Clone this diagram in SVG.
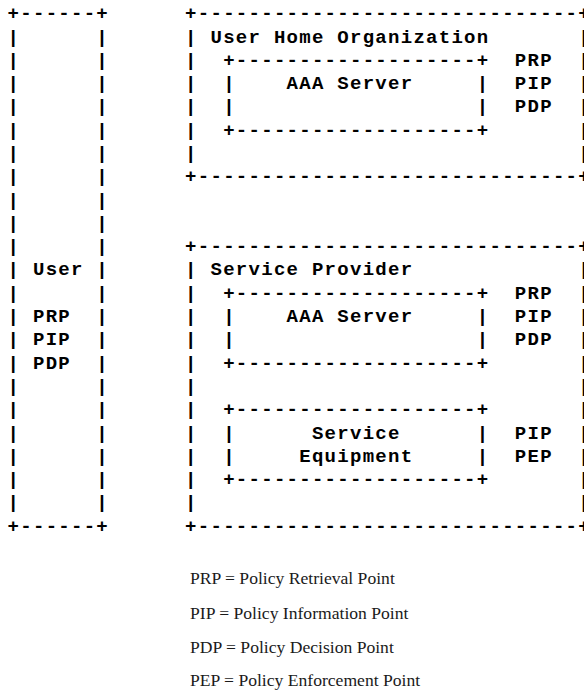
<svg xmlns="http://www.w3.org/2000/svg" width="584" height="693" viewBox="0 0 584 693">
  <style>
    .art { font-family: "Liberation Mono", "Courier New", monospace; font-size: 19px; font-weight: bold; letter-spacing: 1.28px; fill: #000; }
    .legend { font-family: "Liberation Serif", "Times New Roman", serif; font-size: 17.6px; fill: #1a1a1a; }
  </style>
  <rect width="584" height="693" fill="#fff"/>

  <!-- Character grid: column c at x = 7.6 + 12.68c, row r baseline at y = 19.3 + 23.29r -->
  <g id="user" class="art">
    <text x="7.6" y="19.3">+------+</text>
    <text x="7.6 7.6 7.6 7.6 7.6 7.6 7.6 7.6 7.6 7.6 7.6 7.6 7.6 7.6 7.6 7.6 7.6 7.6 7.6 7.6 7.6"
          y="42.59 65.88 89.17 112.46 135.75 159.04 182.33 205.62 228.91 252.2 275.49 298.78 322.07 345.36 368.65 391.94 415.23 438.52 461.81 485.1 508.39">|||||||||||||||||||||</text>
    <text x="96.36 96.36 96.36 96.36 96.36 96.36 96.36 96.36 96.36 96.36 96.36 96.36 96.36 96.36 96.36 96.36 96.36 96.36 96.36 96.36 96.36"
          y="42.59 65.88 89.17 112.46 135.75 159.04 182.33 205.62 228.91 252.2 275.49 298.78 322.07 345.36 368.65 391.94 415.23 438.52 461.81 485.1 508.39">|||||||||||||||||||||</text>
    <text x="7.6" y="531.68">+------+</text>
    <text x="32.96" y="275.49">User</text>
    <text x="32.96" y="322.07">PRP</text>
    <text x="32.96" y="345.36">PIP</text>
    <text x="32.96" y="368.65">PDP</text>
  </g>

  <g id="home-organization" class="art">
    <text x="185.12" y="19.3">+------------------------------+</text>
    <text x="185.12 185.12 185.12 185.12 185.12 185.12" y="42.59 65.88 89.17 112.46 135.75 159.04">||||||</text>
    <text x="578.2 578.2 578.2 578.2 578.2 578.2" y="42.59 65.88 89.17 112.46 135.75 159.04">||||||</text>
    <text x="185.12" y="182.33">+------------------------------+</text>
    <text x="210.48" y="42.59">User Home Organization</text>
    <text x="514.8" y="65.88">PRP</text>
    <text x="514.8" y="89.17">PIP</text>
    <text x="514.8" y="112.46">PDP</text>
    <g id="home-aaa-server">
      <text x="223.16" y="65.88">+-------------------+</text>
      <text x="223.16 476.76 223.16 476.76" y="89.17 89.17 112.46 112.46">||||</text>
      <text x="223.16" y="135.75">+-------------------+</text>
      <text x="286.56" y="89.17">AAA Server</text>
    </g>
  </g>

  <g id="service-provider" class="art">
    <text x="185.12" y="252.2">+------------------------------+</text>
    <text x="185.12 185.12 185.12 185.12 185.12 185.12 185.12 185.12 185.12 185.12 185.12"
          y="275.49 298.78 322.07 345.36 368.65 391.94 415.23 438.52 461.81 485.1 508.39">|||||||||||</text>
    <text x="578.2 578.2 578.2 578.2 578.2 578.2 578.2 578.2 578.2 578.2 578.2"
          y="275.49 298.78 322.07 345.36 368.65 391.94 415.23 438.52 461.81 485.1 508.39">|||||||||||</text>
    <text x="185.12" y="531.68">+------------------------------+</text>
    <text x="210.48" y="275.49">Service Provider</text>
    <text x="514.8" y="298.78">PRP</text>
    <text x="514.8" y="322.07">PIP</text>
    <text x="514.8" y="345.36">PDP</text>
    <text x="514.8" y="438.52">PIP</text>
    <text x="514.8" y="461.81">PEP</text>
    <g id="provider-aaa-server">
      <text x="223.16" y="298.78">+-------------------+</text>
      <text x="223.16 476.76 223.16 476.76" y="322.07 322.07 345.36 345.36">||||</text>
      <text x="223.16" y="368.65">+-------------------+</text>
      <text x="286.56" y="322.07">AAA Server</text>
    </g>
    <g id="service-equipment">
      <text x="223.16" y="415.23">+-------------------+</text>
      <text x="223.16 476.76 223.16 476.76" y="438.52 438.52 461.81 461.81">||||</text>
      <text x="223.16" y="485.1">+-------------------+</text>
      <text x="311.92" y="438.52">Service</text>
      <text x="299.24" y="461.81">Equipment</text>
    </g>
  </g>

  <g id="legend" class="legend">
    <text x="190" y="584">PRP = Policy Retrieval Point</text>
    <text x="190" y="618.5">PIP = Policy Information Point</text>
    <text x="190" y="652.5">PDP = Policy Decision Point</text>
    <text x="190" y="686">PEP = Policy Enforcement Point</text>
  </g>
</svg>
